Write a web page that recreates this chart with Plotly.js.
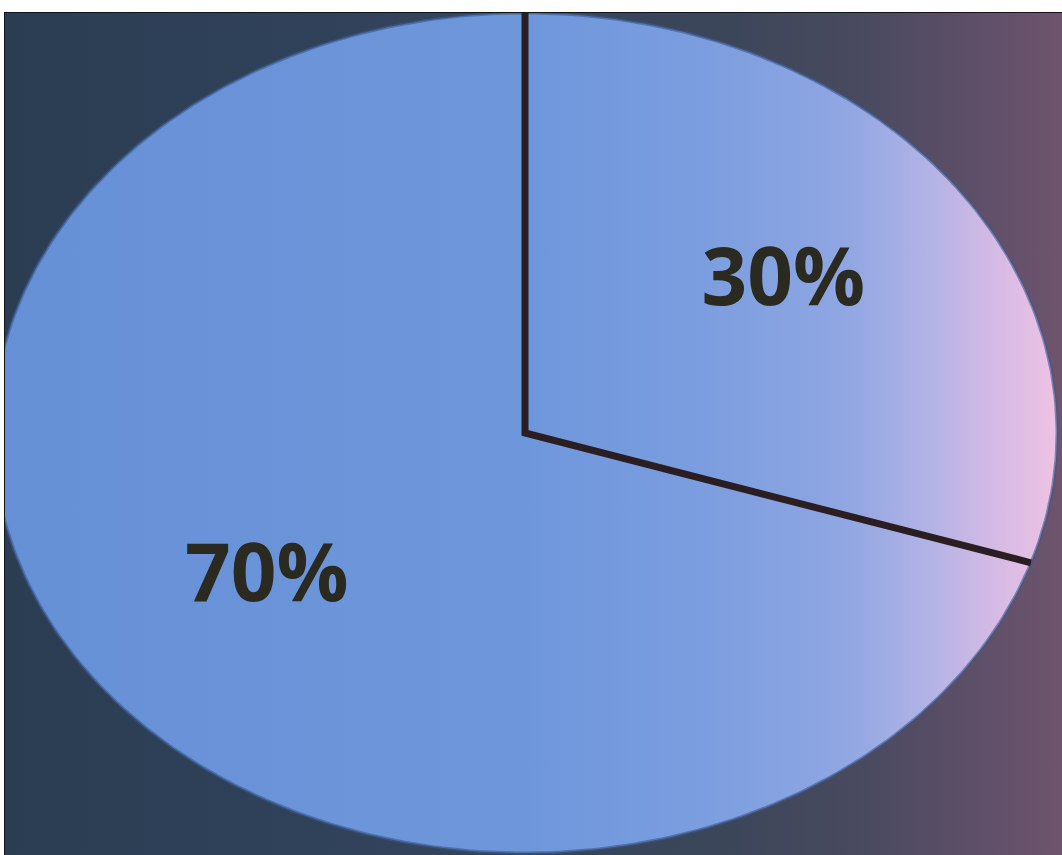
<!DOCTYPE html>
<html>
<head>
<meta charset="utf-8">
<script src="https://cdn.plot.ly/plotly-3.0.1.min.js"></script>
<style>
  html, body { margin: 0; padding: 0; background: #ffffff; width: 1062px; height: 855px; overflow: hidden; }
  #frame {
    position: absolute; left: 4px; top: 12px; width: 1057px; height: 842px;
    border-top: 1px solid #141414; border-left: 1px solid #141414;
    background: linear-gradient(to right, #2b3d52 0%, #30425a 30%, #36455b 55%, #3b4659 68%, #4a4a60 82%, #5e4f68 92%, #6e546c 100%);
  }
  #chart { position: absolute; left: 0; top: 0; width: 1057px; height: 842px; }
</style>
</head>
<body>
<div id="frame"><div id="chart"></div></div>
<script>
// ---- data ----
const sliceNames = ['Part A', 'Part B'];
const sliceValues = [30, 70];
const startAngle = 90;   // degrees, 12 o'clock, going clockwise

// ---- styling ----
const pieGradient = [[0, '#6690d6'], [0.5, '#6e97db'], [0.66, '#7a9ddf'], [0.8, '#8fa6e2'], [0.875, '#b0b2e6'], [0.94, '#d4bae4'], [1, '#eec2e4']];
const textColor = '#2a2a20';
const edgeColor = '#2a1e22';

const total = sliceValues.reduce((a, b) => a + b, 0);
const rad = d => d * Math.PI / 180;
const traces = [];
const labelX = [], labelY = [], labelT = [];
const boundaries = [];
let cum = 0;
sliceValues.forEach((v, i) => {
  const a0 = startAngle - cum / total * 360;
  cum += v;
  const a1 = startAngle - cum / total * 360;
  boundaries.push(a0);
  const n = Math.max(2, Math.ceil(Math.abs(a1 - a0)));
  const xs = [0], ys = [0];
  for (let k = 0; k <= n; k++) {
    const a = rad(a0 + (a1 - a0) * k / n);
    xs.push(Math.cos(a)); ys.push(Math.sin(a));
  }
  xs.push(0); ys.push(0);
  traces.push({
    type: 'scatter', x: xs, y: ys, mode: 'lines', fill: 'toself',
    name: sliceNames[i],
    line: { color: 'rgba(60,88,140,0.6)', width: 3 },
    fillgradient: { type: 'horizontal', start: -1, stop: 1, colorscale: pieGradient },
    hoverinfo: 'skip', showlegend: false
  });
  const mid = rad((a0 + a1) / 2);
  labelX.push(0.6 * Math.cos(mid));
  labelY.push(0.6 * Math.sin(mid));
  labelT.push(Math.round(v / total * 100) + '%');
});

// radial separators
const rx = [], ry = [];
boundaries.forEach((b, i) => {
  if (i > 0) { rx.push(0); ry.push(0); }
  rx.push(Math.cos(rad(b))); ry.push(Math.sin(rad(b)));
  if (i === 0) { rx.push(0); ry.push(0); }
});
traces.push({
  type: 'scatter', x: rx, y: ry, mode: 'lines',
  line: { color: edgeColor, width: 7 }, hoverinfo: 'skip', showlegend: false
});

traces.push({
  type: 'scatter', x: labelX, y: labelY, mode: 'text', text: labelT,
  textposition: 'middle center',
  textfont: { family: 'Open Sans, Lato, sans-serif', size: 80, weight: 'bold', color: textColor },
  hoverinfo: 'skip', showlegend: false, cliponaxis: false
});

const W = 1057, H = 842;
const cx = 520, cy = 420, rpx = 532, rpy = 420;
const layout = {
  width: W, height: H,
  margin: { l: 0, r: 0, t: 0, b: 0 },
  paper_bgcolor: 'rgba(0,0,0,0)', plot_bgcolor: 'rgba(0,0,0,0)',
  xaxis: { range: [-cx / rpx, (W - cx) / rpx], visible: false, fixedrange: true },
  yaxis: { range: [-(H - cy) / rpy, cy / rpy], visible: false, fixedrange: true },
  showlegend: false
};
Plotly.newPlot('chart', traces, layout, { displayModeBar: false, staticPlot: true });
</script>
</body>
</html>
